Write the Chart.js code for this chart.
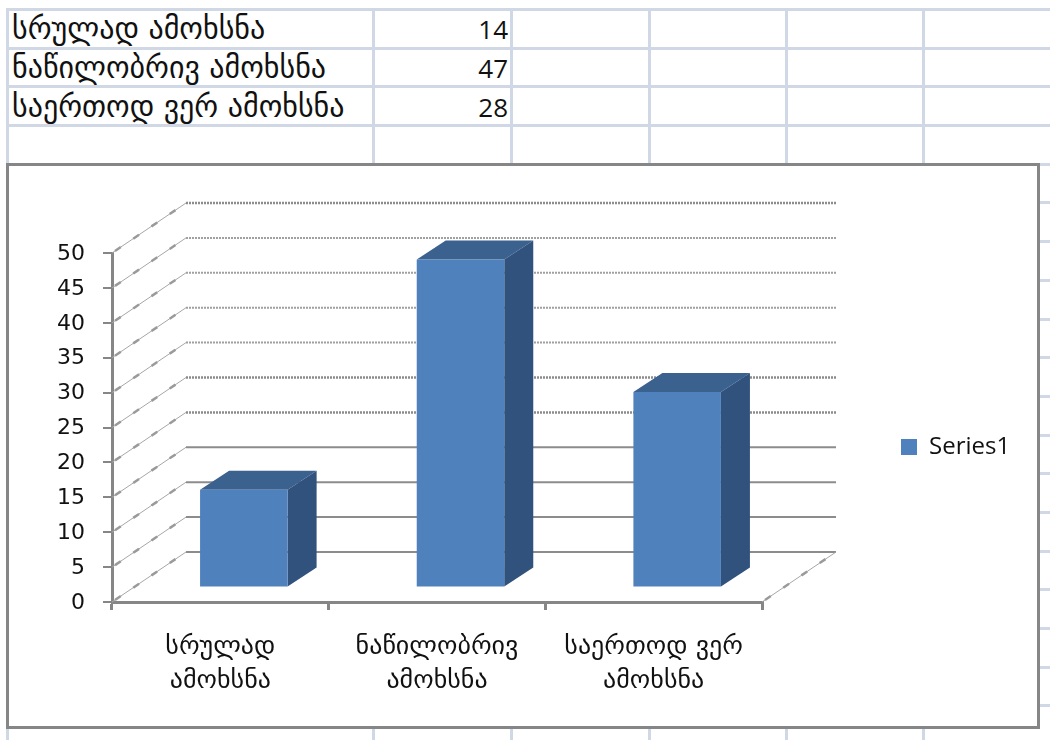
<!DOCTYPE html>
<html>
<head>
<meta charset="utf-8">
<script src="https://cdn.jsdelivr.net/npm/chart.js@4"></script>
<style>
  html, body { margin: 0; padding: 0; background: #fff; overflow: hidden; }
  #page { position: relative; width: 1050px; height: 740px; overflow: hidden; }
  #sheet { position: absolute; left: 6px; top: 8px; border-collapse: collapse; table-layout: fixed; }
  #sheet td { border: 3px solid #d0d7e5; height: 34.7px; padding: 1px 0 0 3px; box-sizing: content-box; color: #111;
              font: 30px/34px "DejaVu Sans", sans-serif; white-space: nowrap; overflow: hidden; }
  #sheet td.num { text-align: right; padding: 2px 2px 0 0; height: 33.7px; font: 26px/33px "Open Sans", sans-serif; }
  #frame { position: absolute; left: 6px; top: 163px; width: 1028px; height: 560px; background: #fff; border: 3px solid #868686; }
  #chart { position: absolute; left: 0; top: 0; }
</style>
</head>
<body>
<div id="page">
  <table id="sheet"></table>
  <div id="frame"></div>
  <canvas id="chart" width="1050" height="740"></canvas>
</div>
<script>
const tableLabels = ["სრულად ამოხსნა", "ნაწილობრივ ამოხსნა", "საერთოდ ვერ ამოხსნა"];
const tickLabels = [["სრულად", "ამოხსნა"], ["ნაწილობრივ", "ამოხსნა"], ["საერთოდ ვერ", "ამოხსნა"]];
const seriesValues = [14, 47, 28];
const seriesName = "Series1";

const columnWidths = [366, 138, 138, 137, 137, 138];
const rowCount = 19;

// spreadsheet behind the chart
const sheet = document.getElementById("sheet");
sheet.style.width = columnWidths.reduce((a, b) => a + b, 0) + "px";
const cols = document.createElement("colgroup");
columnWidths.forEach(w => {
    const col = document.createElement("col");
    col.style.width = w + "px";
    cols.appendChild(col);
});
sheet.appendChild(cols);
for (let r = 0; r < rowCount; r++) {
    const row = sheet.insertRow();
    columnWidths.forEach((w, c) => {
        const cell = row.insertCell();
        if (r < tableLabels.length && c == 0) cell.textContent = tableLabels[r];
        if (r < tableLabels.length && c == 1) {
            cell.textContent = seriesValues[r];
            cell.className = "num";
        }
    });
}

const wallOffset = { x: 74, y: -50 };
const barOffset = { x: 23.5, y: -14.5 };
const barDepth = { x: 29, y: -19 };

const fakeDepth = {
    id: "fakeDepth",
    afterLayout(chart) {
        const legend = chart.legend;
        legend.left = 901;
        legend.right = 1030;
        legend.top = 435;
        legend.bottom = 463;
    },
    beforeDatasetsDraw(chart) {
        const { ctx, scales } = chart;
        const left = scales.x.left, right = scales.x.right;

        ctx.save();
        scales.y.ticks.forEach(tick => {
            const y = scales.y.getPixelForValue(tick.value);
            const dotted = tick.value >= 20;
            const lighter = tick.value >= 30 && tick.value < 50;

            // line on the back wall
            ctx.beginPath();
            ctx.strokeStyle = lighter ? "#a0a0a0" : "#8c8c8c";
            ctx.lineWidth = dotted && !lighter ? 2.5 : 2;
            ctx.setLineDash(dotted ? [2, 1] : []);
            ctx.moveTo(left + wallOffset.x, y + wallOffset.y);
            ctx.lineTo(right + wallOffset.x, y + wallOffset.y);
            ctx.stroke();

            // line on the side wall
            ctx.setLineDash([]);
            ctx.lineWidth = 1;
            ctx.strokeStyle = "#a6a6a6";
            ctx.beginPath();
            ctx.moveTo(left, y);
            ctx.lineTo(left + wallOffset.x, y + wallOffset.y);
            ctx.stroke();
            ctx.lineWidth = 2.5;
            ctx.strokeStyle = "#9a9a9a";
            ctx.setLineDash([7, 15]);
            ctx.beginPath();
            ctx.moveTo(left + 3, y - 2);
            ctx.lineTo(left + wallOffset.x, y + wallOffset.y);
            ctx.stroke();
        });

        // right edge of the floor
        const base = scales.y.getPixelForValue(0);
        ctx.lineWidth = 1;
        ctx.strokeStyle = "#a6a6a6";
        ctx.setLineDash([]);
        ctx.beginPath();
        ctx.moveTo(right, base);
        ctx.lineTo(right + wallOffset.x, base + wallOffset.y);
        ctx.stroke();
        ctx.lineWidth = 2.5;
        ctx.strokeStyle = "#9a9a9a";
        ctx.setLineDash([7, 15]);
        ctx.beginPath();
        ctx.moveTo(right + 3, base - 2);
        ctx.lineTo(right + wallOffset.x, base + wallOffset.y);
        ctx.stroke();
        ctx.restore();

        // bars sit in front of the back wall, shifted off the axis plane
        ctx.save();
        ctx.translate(barOffset.x, barOffset.y);
        chart.getDatasetMeta(0).data.forEach(bar => {
            const x0 = bar.x - bar.width / 2, x1 = bar.x + bar.width / 2;
            ctx.fillStyle = "#3b618f";
            ctx.beginPath();
            ctx.moveTo(x0, bar.y);
            ctx.lineTo(x0 + barDepth.x, bar.y + barDepth.y);
            ctx.lineTo(x1 + barDepth.x, bar.y + barDepth.y);
            ctx.lineTo(x1, bar.y);
            ctx.closePath();
            ctx.fill();
            ctx.fillStyle = "#31527d";
            ctx.beginPath();
            ctx.moveTo(x1, bar.y);
            ctx.lineTo(x1 + barDepth.x, bar.y + barDepth.y);
            ctx.lineTo(x1 + barDepth.x, bar.base + barDepth.y);
            ctx.lineTo(x1, bar.base);
            ctx.closePath();
            ctx.fill();
        });
    },
    afterDatasetsDraw(chart) {
        chart.ctx.restore();
    }
};

new Chart(document.getElementById("chart"), {
    type: "bar",
    data: {
        labels: tickLabels,
        datasets: [{
            label: seriesName,
            data: seriesValues,
            backgroundColor: "#4f81bd",
            borderWidth: 0,
            barPercentage: 1,
            categoryPercentage: 0.404,
            clip: false
        }]
    },
    options: {
        responsive: false,
        animation: false,
        layout: { padding: { top: 253, left: 0, right: 288, bottom: 0 } },
        plugins: {
            tooltip: { enabled: false },
            legend: {
                position: "chartArea",
                align: "start",
                labels: {
                    boxWidth: 16,
                    boxHeight: 16,
                    padding: 0,
                    color: "#111",
                    font: { family: "Open Sans", size: 24 }
                }
            }
        },
        scales: {
            x: {
                afterFit: scale => { scale.height = 138; },
                grid: { offset: true, drawOnChartArea: false, color: "#868686", tickLength: 8, lineWidth: 3 },
                border: { color: "#868686", width: 3 },
                ticks: {
                    color: "#111",
                    padding: 20,
                    maxRotation: 0,
                    font: { family: "DejaVu Sans", size: 26, lineHeight: 1.31 }
                }
            },
            y: {
                min: 0,
                max: 50,
                afterFit: scale => { scale.width = 112; },
                grid: { drawOnChartArea: false, color: "#868686", tickLength: 9, lineWidth: 2 },
                border: { color: "#868686", width: 3 },
                ticks: {
                    stepSize: 5,
                    color: "#111",
                    padding: 18,
                    labelOffset: 1,
                    font: { family: "DejaVu Sans", size: 22 }
                }
            }
        }
    },
    plugins: [fakeDepth]
});
</script>
</body>
</html>
